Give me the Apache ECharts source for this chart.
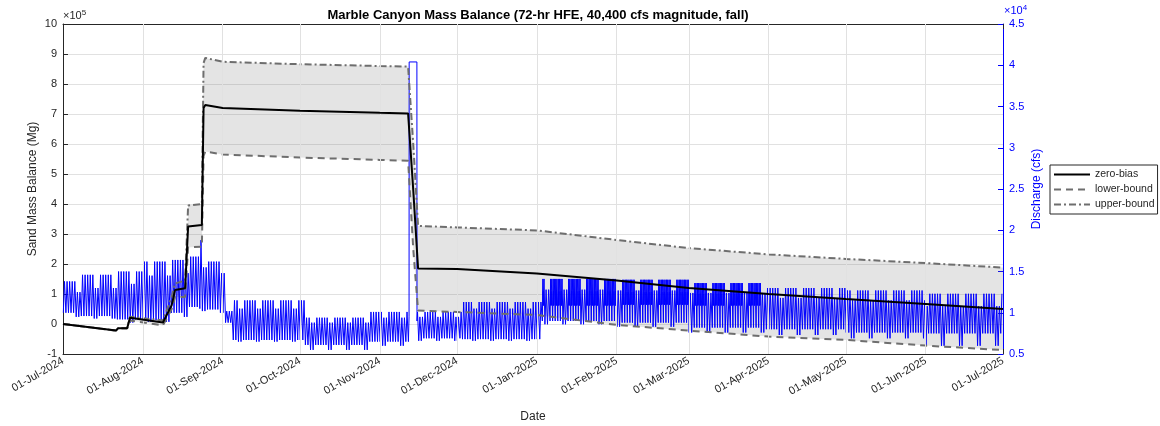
<!DOCTYPE html>
<html>
<head>
<meta charset="utf-8">
<script src="https://cdn.jsdelivr.net/npm/echarts@6/dist/echarts.min.js"></script>
<style>
  html, body { margin: 0; padding: 0; background: #fff; }
  #chart { width: 1160px; height: 426px; }
</style>
</head>
<body>
<div id="chart"></div>
<script>
// mass balance (Mg)
var mbDates = ['2024-07-01 00:00', '2024-07-21 14:00', '2024-07-22 10:00', '2024-07-25 22:00', '2024-07-27 00:00',
    '2024-08-08 19:00', '2024-08-12 05:00', '2024-08-13 12:00', '2024-08-17 10:00', '2024-08-18 00:00',
    '2024-08-18 14:00', '2024-08-23 22:00', '2024-08-24 14:00', '2024-08-25 06:00', '2024-09-01 00:00',
    '2024-10-01 00:00', '2024-11-01 00:00', '2024-11-12 00:00', '2024-11-14 00:00', '2024-11-15 21:00',
    '2024-12-01 00:00', '2025-01-01 00:00', '2025-02-01 00:00', '2025-03-01 00:00', '2025-04-01 00:00',
    '2025-05-01 00:00', '2025-06-01 00:00', '2025-07-01 00:00'];
var zeroBias = [0, -22000, -14000, -14000, 21000, 5000, 63000, 113000, 119000, 125000,
    325000, 330000, 720000, 730000, 720000, 711000, 704000, 702000, 447000, 185000,
    183000, 168000, 145000, 120000, 100000, 83000, 67000, 50000];
var lowerBound = [0, -22000, -14000, -14000, 12000, -5000, 50000, 90000, 90000, 95000,
    255000, 258000, 560000, 575000, 565000, 555000, 547000, 544000, 250000, 45000,
    40000, 30000, -3000, -22000, -42000, -53000, -72000, -87000];
var upperBound = [0, -22000, -14000, -14000, 24000, 12000, 90000, 135000, 145000, 150000,
    395000, 400000, 870000, 887000, 874000, 866000, 860000, 858000, 600000, 327000,
    322000, 312000, 280000, 253000, 232000, 217000, 203000, 188000];

// discharge (cfs): daily fluctuation envelopes per operating period
var segStart   = ['2024-07-01', '2024-07-08', '2024-07-22', '2024-08-01', '2024-08-12', '2024-08-19', '2024-08-23', '2024-08-24',
    '2024-08-26', '2024-09-02', '2024-09-05', '2024-10-03', '2024-10-28', '2024-11-12', '2024-11-16', '2024-12-03',
    '2025-01-03', '2025-02-01', '2025-03-01', '2025-03-31', '2025-05-01', '2025-06-01'];
var segHigh    = [13800, 14600, 15000, 16200, 16400, 16800, 18800, 16800, 16200, 10200, 11500, 9400, 10100, null, 10100, 11300, 14100, 14000, 13600, 13000, 12700, 12300];
var segLow     = [10000, 9600, 9200, 9100, 10000, 10700, 10500, 10700, 10400, 8800, 6700, 6100, 6500, null, 6900, 6800, 9000, 8800, 8200, 8000, 7600, 7500];
var segWkHigh  = [12500, 13000, 13500, 14500, 14800, 15500, 15500, 15500, 14800, 10200, 10500, 8800, 9400, null, 9500, 10500, 12800, 12700, 12400, 11800, 11500, 10800];
var segWkLow   = [9500, 9300, 8800, 8900, 9500, 10200, 10200, 10200, 10000, 8800, 6500, 5500, 6000, null, 6600, 6600, 8600, 8300, 7600, 7300, 6900, 6000];
var segBandLow  = [null, null, null, null, null, null, null, null, null, null, null, null, null, null, null, null, 10900, 11000, 10900, null, null, null];
var segBandHigh = [null, null, null, null, null, null, null, null, null, null, null, null, null, null, null, null, 12600, 12500, 12300, null, null, null];

// high flow experiment, 12-15 Nov 2024
var hfeTimes  = ['2024-11-12 03:00', '2024-11-12 09:00', '2024-11-12 10:00', '2024-11-15 10:00', '2024-11-15 11:00', '2024-11-15 16:00'];
var hfeValues = [6500, 9500, 40400, 40400, 9000, 10100];

var MON = ['Jan', 'Feb', 'Mar', 'Apr', 'May', 'Jun', 'Jul', 'Aug', 'Sep', 'Oct', 'Nov', 'Dec'];

function toTime(s) {
    var p = s.split(' ');
    var d = p[0].split('-').map(Number);
    var t = (p[1] || '00:00').split(':').map(Number);
    return new Date(d[0], d[1] - 1, d[2], t[0], t[1]).getTime();
}

var monthTicks = [];
for (var m = 0; m < 13; m++) monthTicks.push(new Date(2024, 6 + m, 1).getTime());
var xMin = monthTicks[0], xMax = monthTicks[12];

// discharge points
var segT = segStart.map(toTime);
var discharge = [];
for (var i = 0; ; i++) {
    var day = new Date(2024, 6, 1 + i);
    var t0 = day.getTime();
    if (t0 >= xMax) break;
    var k = 0;
    while (k + 1 < segT.length && segT[k + 1] <= t0) k++;
    if (segHigh[k] == null) continue;
    var wk = day.getDay() === 0 || day.getDay() === 6;
    var h = 3600000;
    if (wk) {
        discharge.push([t0 + 3 * h, segWkLow[k]]);
        discharge.push([t0 + 14 * h, segWkHigh[k]]);
    } else if (segBandLow[k] != null) {
        discharge.push([t0 + 3 * h, segLow[k]]);
        discharge.push([t0 + 8 * h, segHigh[k]]);
        discharge.push([t0 + 10 * h, segBandLow[k]]);
        discharge.push([t0 + 11 * h, segBandHigh[k]]);
        discharge.push([t0 + 12 * h, segBandLow[k]]);
        discharge.push([t0 + 13 * h, segBandHigh[k]]);
        discharge.push([t0 + 14 * h, segBandLow[k]]);
        discharge.push([t0 + 15 * h, segBandHigh[k]]);
        discharge.push([t0 + 19 * h, segHigh[k]]);
    } else {
        discharge.push([t0 + 3 * h, segLow[k]]);
        discharge.push([t0 + 14 * h, segHigh[k]]);
    }
}
hfeTimes.forEach(function (s, j) { discharge.push([toTime(s), hfeValues[j]]); });
discharge.sort(function (a, b) { return a[0] - b[0]; });

var mbT = mbDates.map(toTime);
var zeroData = mbT.map(function (t, j) { return [t, zeroBias[j]]; });
var lowerData = mbT.map(function (t, j) { return [t, lowerBound[j]]; });
var upperData = mbT.map(function (t, j) { return [t, upperBound[j]]; });
var bandRows = mbT.map(function (t, j) { return [t, lowerBound[j], upperBound[j]]; });

var font = 'Liberation Sans';
var txt = '#262626';

// shaded range between lower and upper bound, one polygon
function renderBand(params, api) {
    if (params.dataIndex !== 0) return;
    var pts = [];
    for (var j = 0; j < bandRows.length; j++) pts.push(api.coord([bandRows[j][0], bandRows[j][2]]));
    for (var j = bandRows.length - 1; j >= 0; j--) pts.push(api.coord([bandRows[j][0], bandRows[j][1]]));
    return {
        type: 'polygon',
        shape: { points: pts },
        style: { fill: 'rgba(110,110,110,0.19)' }
    };
}

var option = {
    animation: false,
    title: {
        text: 'Marble Canyon Mass Balance (72-hr HFE, 40,400 cfs magnitude, fall)',
        left: 533, top: 4, textAlign: 'center',
        textStyle: { fontFamily: font, fontSize: 13, fontWeight: 'bold', color: '#000' }
    },
    legend: {
        orient: 'vertical', left: 1050, top: 165,
        data: ['zero-bias', 'lower-bound', 'upper-bound'],
        itemWidth: 36, itemHeight: 10, itemGap: 4,
        padding: [4, 3, 4, 3],
        borderColor: '#262626', borderWidth: 1, backgroundColor: '#fff',
        itemStyle: { opacity: 0 },
        textStyle: { fontFamily: font, fontSize: 10.5, color: txt }
    },
    graphic: [
        { type: 'text', left: 63, top: 9, style: { text: '×10{s|5}', fontFamily: font, fontSize: 11, fill: txt, rich: { s: { fontSize: 8, verticalAlign: 'top', padding: [0, 0, 6, 0] } } } },
        { type: 'text', left: 1004, top: 4, style: { text: '×10{s|4}', fontFamily: font, fontSize: 11, fill: '#0000ff', rich: { s: { fontSize: 8, verticalAlign: 'top', padding: [0, 0, 6, 0] } } } }
    ],
    grid: { left: 63, right: 157, top: 24, bottom: 72, outerBoundsMode: 'none' },
    xAxis: [{
        type: 'value', min: xMin, max: xMax,
        name: 'Date', nameLocation: 'middle', nameGap: 57, nameMoveOverlap: false,
        nameTextStyle: { fontFamily: font, fontSize: 12, color: txt },
        axisLine: { show: true, onZero: false, lineStyle: { color: txt, width: 1 } },
        axisTick: { show: true, inside: true, length: 5, customValues: monthTicks, lineStyle: { color: txt } },
        axisLabel: {
            customValues: monthTicks, rotate: 30, fontFamily: font, fontSize: 11, color: txt, margin: 6,
            formatter: function (v) {
                var d = new Date(v);
                return '01-' + MON[d.getMonth()] + '-' + d.getFullYear();
            }
        },
        splitLine: { show: false }
    }, {
        type: 'value', min: xMin, max: xMax, position: 'top',
        axisLine: { show: true, onZero: false, lineStyle: { color: txt, width: 1 } },
        axisTick: { show: true, inside: true, length: 5, customValues: monthTicks, lineStyle: { color: txt } },
        axisLabel: { show: false },
        splitLine: { show: false }
    }],
    yAxis: [{
        type: 'value', min: -100000, max: 1000000, interval: 100000,
        name: 'Sand Mass Balance (Mg)', nameLocation: 'middle', nameGap: 24, nameRotate: 90, nameMoveOverlap: false,
        nameTextStyle: { fontFamily: font, fontSize: 12, color: txt },
        axisLine: { show: true, onZero: false, lineStyle: { color: txt, width: 1 } },
        axisTick: { show: true, inside: true, length: 5, lineStyle: { color: txt } },
        axisLabel: { fontFamily: font, fontSize: 11, color: txt, margin: 6, formatter: function (v) { return String(Math.round(v / 1e5)); } },
        splitLine: { show: true, lineStyle: { color: '#e1e1e1', width: 1 } }
    }, {
        type: 'value', min: 5000, max: 45000, interval: 5000, position: 'right',
        name: 'Discharge (cfs)', nameLocation: 'middle', nameGap: 28, nameRotate: 90, nameMoveOverlap: false,
        nameTextStyle: { fontFamily: font, fontSize: 12, color: '#0000ff' },
        axisLine: { show: true, onZero: false, lineStyle: { color: '#0000ff', width: 1 } },
        axisTick: { show: true, inside: true, length: 5, lineStyle: { color: '#0000ff' } },
        axisLabel: { fontFamily: font, fontSize: 11, color: '#0000ff', margin: 6, formatter: function (v) { return String(v / 1e4); } },
        splitLine: { show: false }
    }],
    series: [{
        name: 'grid', type: 'line', data: [], z: 0, silent: true,
        markLine: {
            silent: true, symbol: 'none', label: { show: false },
            lineStyle: { color: '#e1e1e1', width: 1, type: 'solid' },
            data: monthTicks.slice(1, 12).map(function (t) { return { xAxis: t }; })
        }
    }, {
        name: 'band', type: 'custom', data: bandRows, renderItem: renderBand,
        encode: { x: 0, y: [1, 2] }, z: 1, silent: true
    }, {
        name: 'discharge', type: 'line', yAxisIndex: 1, data: discharge,
        symbol: 'none', z: 3,
        lineStyle: { color: '#0000ff', width: 1 }
    }, {
        name: 'lower-bound', type: 'line', data: lowerData, symbol: 'none', z: 4,
        itemStyle: { color: '#6e6e6e' },
        lineStyle: { color: '#6e6e6e', width: 2, type: [7, 5] }
    }, {
        name: 'upper-bound', type: 'line', data: upperData, symbol: 'none', z: 4,
        itemStyle: { color: '#6e6e6e' },
        lineStyle: { color: '#6e6e6e', width: 2, type: [7, 3, 2, 3] }
    }, {
        name: 'zero-bias', type: 'line', data: zeroData, symbol: 'none', z: 5,
        itemStyle: { color: '#000' },
        lineStyle: { color: '#000', width: 2 }
    }]
};

var chart = echarts.init(document.getElementById('chart'));
chart.setOption(option);
</script>
</body>
</html>
